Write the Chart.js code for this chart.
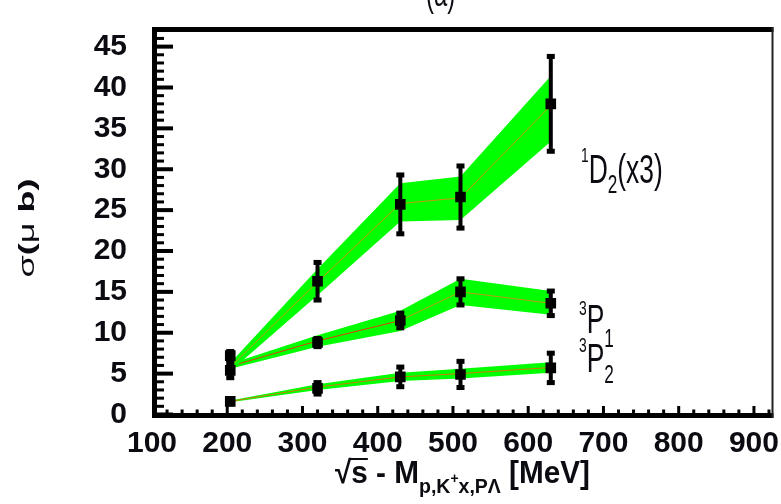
<!DOCTYPE html>
<html>
<head>
<meta charset="utf-8">
<script src="https://cdn.jsdelivr.net/npm/chart.js@4.4.0/dist/chart.umd.min.js"></script>
<style>
  html, body { margin: 0; padding: 0; background: #fff; }
  #wrap { width: 781px; height: 504px; }
</style>
</head>
<body>
<div id="wrap"><canvas id="c" width="781" height="504"></canvas></div>
<script>
// Beam energy above threshold (MeV) of each measurement
const energy = [204, 320, 430, 510, 630];

// 1D2 partial wave (scaled x3): measured points, errors and fit band
const d2Value    = [7.2, 16.3, 25.7, 26.6, 38.0];
const d2Error    = [0.5, 2.3, 3.6, 3.8, 5.8];
const d2BandLow  = [5.3, 14.6, 23.6, 23.8, 33.4];
const d2BandMid  = [5.8, 16.2, 25.8, 26.5, 37.8];
const d2BandHigh = [6.3, 17.8, 28.3, 29.1, 41.4];

// 3P1 partial wave
const p1Value    = [5.4, 8.8, 11.5, 15.0, 13.6];
const p1Error    = [0.9, 0.5, 0.9, 1.6, 1.5];
const p1BandLow  = [5.6, 8.3, 10.2, 13.4, 12.2];
const p1BandMid  = [5.9, 9.0, 11.5, 15.0, 13.6];
const p1BandHigh = [6.2, 9.7, 12.7, 16.6, 15.1];

// 3P2 partial wave
const p2Value    = [1.6, 3.2, 4.6, 4.9, 5.7];
const p2Error    = [0.3, 0.7, 1.2, 1.6, 1.8];
const p2BandLow  = [1.5, 3.0, 4.1, 4.4, 5.1];
const p2BandMid  = [1.6, 3.35, 4.6, 5.0, 5.75];
const p2BandHigh = [1.7, 3.7, 5.1, 5.6, 6.4];

// Axis ticks
const xTickStep = 100, xMinorStep = 20;
const yTickStep = 5, yMinorStep = 1;

const NARROW = '"Liberation Sans Narrow", "Arial Narrow", "Liberation Sans", Arial, sans-serif';
const SANS = '"Liberation Sans", Arial, Helvetica, sans-serif';
const INK = '#0b0b12';
const GREEN = '#00ff00';

const pts = (ys) => energy.map((x, i) => ({ x, y: ys[i] }));

function markerSet(values, errors) {
  return {
    data: pts(values), errors,
    showLine: false, pointStyle: 'rect', pointRadius: 7.5, pointHoverRadius: 7.5,
    backgroundColor: '#000', borderColor: '#000', borderWidth: 0
  };
}
function bandSets(low, mid, high, midColor, baseIndex) {
  return [
    { data: pts(mid), borderColor: midColor, borderWidth: 1, pointRadius: 0, fill: false,
      segment: typeof midColor === 'function' ? { borderColor: midColor } : undefined },
    { data: pts(high), borderWidth: 0, borderColor: 'rgba(0,0,0,0)', pointRadius: 0,
      backgroundColor: GREEN, fill: baseIndex + 2 },
    { data: pts(low), borderWidth: 0, borderColor: 'rgba(0,0,0,0)', pointRadius: 0, fill: false }
  ];
}

const p1MidColor = (ctx) => (ctx.p0DataIndex < 2 ? '#e43c08' : '#b89a18');

const datasets = [
  markerSet(d2Value, d2Error),
  markerSet(p1Value, p1Error),
  markerSet(p2Value, p2Error),
  ...bandSets(d2BandLow, d2BandMid, d2BandHigh, '#c09a10', 3),
  ...bandSets(p1BandLow, p1BandMid, p1BandHigh, p1MidColor, 6),
  ...bandSets(p2BandLow, p2BandMid, p2BandHigh, '#d07a00', 9)
];
datasets[6].borderColor = '#e43c08';

// Vertical error bars with end caps, drawn under each marker set
const errorBars = {
  id: 'errorBars',
  beforeDatasetDraw(chart, args) {
    const ds = chart.data.datasets[args.index];
    if (!ds.errors) return;
    const { ctx, scales: { x, y } } = chart;
    ctx.save();
    ctx.fillStyle = '#000';
    ds.data.forEach((p, i) => {
      const px = x.getPixelForValue(p.x);
      const yt = y.getPixelForValue(p.y + ds.errors[i]);
      const yb = y.getPixelForValue(p.y - ds.errors[i]);
      ctx.fillRect(px - 2, yt, 4, yb - yt);
      ctx.fillRect(px - 4, yt - 2.5, 8, 5);
      ctx.fillRect(px - 4, yb - 2.5, 8, 5);
    });
    ctx.restore();
  }
};

// Heavy frame with inward tick marks
const frame = {
  id: 'frame',
  afterDatasetsDraw(chart) {
    const { ctx, chartArea: a, scales: { x, y } } = chart;
    ctx.save();
    ctx.fillStyle = '#000';
    ctx.fillRect(a.left, a.top, 5, a.bottom - a.top);
    ctx.fillRect(a.left, a.top, a.right - a.left, 5);
    ctx.fillRect(a.left, a.bottom - 5, a.right - a.left, 5);
    ctx.fillStyle = '#222';
    ctx.fillRect(a.right - 2, a.top, 2, a.bottom - a.top);
    ctx.fillStyle = '#000';
    for (let v = x.min; v <= x.max; v += 1) {
      if (v % xMinorStep !== 0) continue;
      const px = x.getPixelForValue(v);
      if (px < a.left + 5 || px > a.right - 2) continue;
      const major = v % xTickStep === 0;
      const len = major ? 7 : 3.5;
      ctx.fillRect(px - 1.5, a.bottom - 5 - len, 3, len);
    }
    for (let v = 0; v <= y.max; v += yMinorStep) {
      const py = y.getPixelForValue(v);
      if (py < a.top + 5) continue;
      const major = v % yTickStep === 0;
      const len = major ? 16 : 7;
      ctx.fillRect(a.left + 5, py - (major ? 2 : 1.5), len, major ? 4 : 3);
    }
    ctx.restore();
  }
};

// Draws a run of text pieces (size, weight, baseline shift) squeezed horizontally
function textRun(ctx, x, y, pieces, sx, family) {
  ctx.save();
  ctx.translate(x, y);
  ctx.scale(sx, 1);
  let cx = 0;
  for (const [t, size, weight, dy] of pieces) {
    ctx.font = `${weight} ${size}px ${family}`;
    ctx.fillText(t, cx, dy);
    cx += ctx.measureText(t).width;
  }
  ctx.restore();
  return cx * sx;
}
function runWidth(ctx, pieces, family) {
  let w = 0;
  ctx.save();
  for (const [t, size, weight] of pieces) {
    ctx.font = `${weight} ${size}px ${family}`;
    w += ctx.measureText(t).width;
  }
  ctx.restore();
  return w;
}

const annotations = {
  id: 'annotations',
  afterDraw(chart) {
    const ctx = chart.ctx;
    ctx.save();
    ctx.fillStyle = INK;
    ctx.textBaseline = 'alphabetic';
    ctx.textAlign = 'left';

    // panel tag at the top edge
    textRun(ctx, 426, 6, [['(a)', 36, 'normal', 0]], 0.66, SANS);

    // curve labels
    textRun(ctx, 581, 183, [['1', 21, 'normal', -21], ['D', 40, 'normal', 0], ['2', 26, 'normal', 10], ['(x3)', 40, 'normal', 0]], 0.66, SANS);
    textRun(ctx, 579, 333, [['3', 21, 'normal', -18], ['P', 40, 'normal', 0], ['1', 26, 'normal', 14]], 0.66, SANS);
    textRun(ctx, 579, 372, [['3', 21, 'normal', -20], ['P', 40, 'normal', 0], ['2', 26, 'normal', 11]], 0.66, SANS);

    // x axis title: sqrt(s) - M_{p,K+x,PΛ} [MeV]
    const xt = [['\u221A', 32, 'bold', 0], ['s', 32, 'bold', 0], [' - M', 32, 'bold', 0],
                ['p,K', 21, 'bold', 10], ['+', 15, 'bold', 0], ['x,P\u039B', 21, 'bold', 10], [' [MeV]', 32, 'bold', 0]];
    const fullW = runWidth(ctx, xt, SANS);
    const sx = 255 / fullW;
    const x0 = 335;
    textRun(ctx, x0, 483, xt, sx, SANS);
    // bar of the radical over the "s"
    ctx.save();
    ctx.font = `bold 32px ${SANS}`;
    const rw = ctx.measureText('\u221A').width * sx;
    const sw = ctx.measureText('s').width * sx;
    ctx.fillStyle = INK;
    ctx.fillRect(x0 + rw - 2, 458, sw + 2, 2);
    ctx.restore();

    // y axis title, rotated
    ctx.save();
    ctx.translate(34, 228);
    ctx.rotate(-Math.PI / 2);
    ctx.scale(1, 0.62);
    const yt = [['\u03C3', 36, 'normal', 0], ['(', 36, 'bold', 0], ['\u03BC', 36, 'normal', 0], [' b)', 36, 'bold', 0]];
    const yw = runWidth(ctx, yt, SANS);
    let cx = -yw / 2;
    for (const [t, size, weight] of yt) {
      ctx.font = `${weight} ${size}px ${SANS}`;
      ctx.fillText(t, cx, 0);
      cx += ctx.measureText(t).width;
    }
    ctx.restore();

    ctx.restore();
  }
};

new Chart(document.getElementById('c'), {
  type: 'line',
  data: { datasets },
  plugins: [errorBars, frame, annotations],
  options: {
    responsive: false,
    animation: false,
    devicePixelRatio: 1,
    layout: { padding: { top: 27, right: 1, left: 0, bottom: 0 } },
    plugins: { legend: { display: false }, tooltip: { enabled: false }, filler: { propagate: false } },
    elements: { line: { tension: 0 } },
    scales: {
      x: {
        type: 'linear', min: 100, max: 926,
        afterFit(s) { s.height = 86; s.paddingLeft = 0; s.paddingRight = 0; },
        grid: { display: false, drawTicks: false }, border: { display: false },
        ticks: { stepSize: xTickStep, includeBounds: false, autoSkip: false, maxRotation: 0,
                 padding: 8, color: INK, font: { family: NARROW, size: 30, weight: 'bold' } }
      },
      y: {
        type: 'linear', min: -0.43, max: 47.4,
        afterFit(s) { s.width = 152; s.paddingTop = 0; s.paddingBottom = 0; },
        grid: { display: false, drawTicks: false }, border: { display: false },
        ticks: { stepSize: yTickStep, includeBounds: false, autoSkip: false,
                 padding: 25, color: INK, font: { family: NARROW, size: 30, weight: 'bold' } }
      }
    }
  }
});
</script>
</body>
</html>
